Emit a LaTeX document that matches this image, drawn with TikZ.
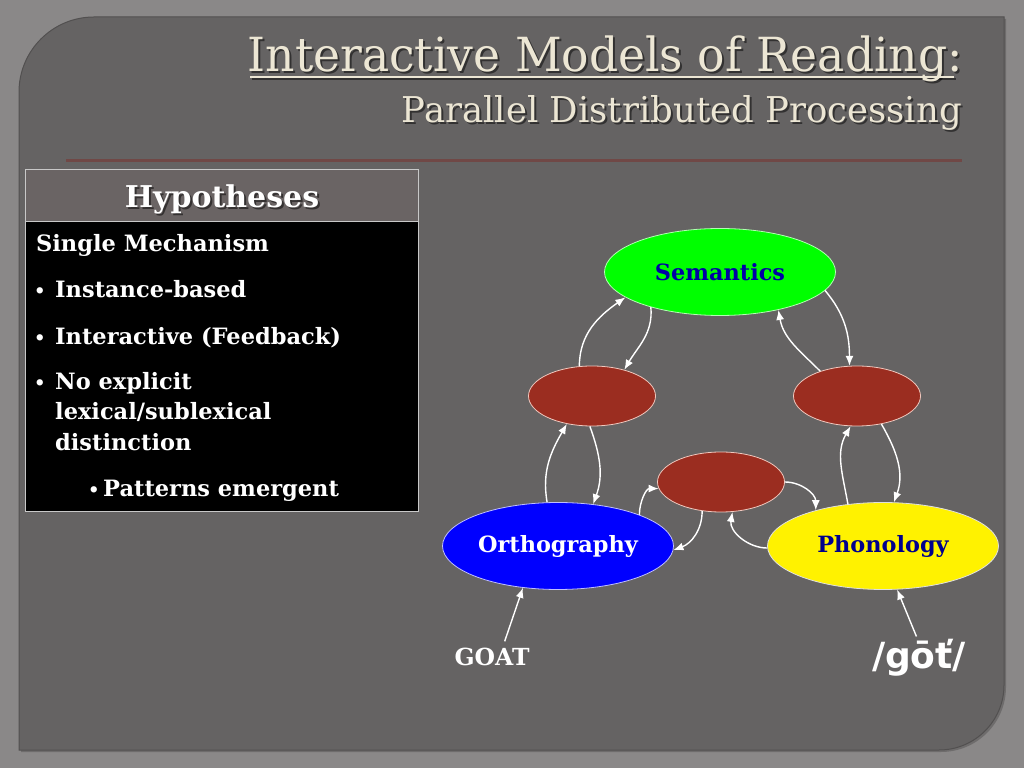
\documentclass[tikz,border=0pt]{standalone}
\usepackage{fontspec}
\setmainfont{DejaVu Serif}
\newfontfamily\symfont{DejaVu Sans}
\usetikzlibrary{arrows.meta,shapes.geometric}
\definecolor{outerbg}{RGB}{138,136,136}
\definecolor{panelc}{RGB}{101,99,99}
\definecolor{panelb}{RGB}{82,80,80}
\definecolor{hdrc}{RGB}{106,100,100}
\definecolor{rulec}{RGB}{112,72,70}
\definecolor{cream}{RGB}{236,230,212}
\definecolor{hidc}{RGB}{155,45,32}
\definecolor{hidb}{RGB}{240,200,190}
\definecolor{semtxt}{RGB}{0,0,165}
\definecolor{phontxt}{RGB}{0,0,140}
\definecolor{boxb}{RGB}{200,200,200}
\begin{document}
\begin{tikzpicture}[x=1pt,y=1pt,
  arr/.style={draw=white,line width=1.4pt,-{Latex[length=10pt,width=8pt]}},
  ell/.style={ellipse,inner sep=0pt,line width=0.8pt},
  hid/.style={ell,fill=hidc,draw=hidb,minimum width=127pt,minimum height=60pt},
  big/.style={ell,minimum width=231pt,minimum height=87pt,font=\fontsize{22.4}{26}\selectfont\bfseries},
  ttl/.style={text=cream,inner sep=0pt},
  shd/.style={text=black,text opacity=0.5,inner sep=0pt},
  btxt/.style={text=white,anchor=base west,inner sep=0pt,font=\fontsize{22.5}{27}\selectfont\bfseries},
  bul/.style={text=white,anchor=base west,inner sep=0pt,font=\fontsize{18}{27}\selectfont\bfseries},
]
\useasboundingbox (0,0) rectangle (1024,768);
\fill[outerbg] (0,0) rectangle (1024,768);
% panel
\fill[black,opacity=0.2] (21,16) -- (941,16) arc[start angle=-90,end angle=0,radius=65] -- (1006,749) -- (96,749) arc[start angle=90,end angle=180,radius=75] -- cycle;
\fill[panelc] (19,18) -- (939,18) arc[start angle=-90,end angle=0,radius=65] -- (1004,751) -- (94,751) arc[start angle=90,end angle=180,radius=75] -- cycle;
\draw[panelb,line width=1pt] (19,18) -- (939,18) arc[start angle=-90,end angle=0,radius=65] -- (1004,751) -- (94,751) arc[start angle=90,end angle=180,radius=75] -- cycle;

% title
\node[shd,anchor=base east] (t1s) at (965,694) {\fontsize{47}{52}\selectfont\scalebox{0.97}[1]{Interactive Models of Reading:}};
\draw[black,opacity=0.5,line width=2pt] (252,689) -- (956,689);
\node[ttl,anchor=base east] (t1) at (963,696) {\fontsize{47}{52}\selectfont\scalebox{0.97}[1]{Interactive Models of Reading:}};
\draw[cream,line width=2pt] (250,691) -- (954,691);
\node[shd,anchor=base east] (t2s) at (964,643) {\fontsize{35.5}{40}\selectfont Parallel Distributed Processing};
\node[ttl,anchor=base east] (t2) at (962,645) {\fontsize{35.5}{40}\selectfont Parallel Distributed Processing};
\draw[rulec,line width=3pt] (66,607) -- (962,607);

% hypotheses box
\draw[boxb,fill=hdrc,line width=1pt] (25,546) rectangle (418,598);
\draw[boxb,fill=black,line width=1pt] (25,256) rectangle (418,546);
\node[shd,anchor=base,font=\fontsize{30}{34}\selectfont\bfseries] (hyps) at (224,558) {Hypotheses};
\node[anchor=base,text=white,inner sep=0pt,font=\fontsize{30}{34}\selectfont\bfseries] (hyp) at (222,560) {Hypotheses};
\node[btxt] (l1) at (36,516) {Single Mechanism};
\node[bul] (b2) at (34,470) {•};
\node[btxt] (l2) at (55,470) {Instance-based};
\node[bul] (b3) at (34,423) {•};
\node[btxt] (l3) at (55,423) {Interactive (Feedback)};
\node[bul] (b4) at (34,378) {•};
\node[btxt] (l4) at (55,378) {No explicit};
\node[btxt] (l5) at (55,348) {lexical/sublexical};
\node[btxt] (l6) at (55,317) {distinction};
\node[bul] (b7) at (88,271) {•};
\node[btxt] (l7) at (103,271) {Patterns emergent};

% diagram nodes
\node[big,fill=green,draw=white!70!green,text=semtxt] (sem) at (720,496) {Semantics};
\node[hid] (lh) at (592,372) {};
\node[hid] (rh) at (857,372) {};
\node[hid] (mid) at (721,286) {};
\node[big,fill=blue,draw=white!75!blue,text=white] (orth) at (558,222) {Orthography};
\node[big,fill=yellow,draw=white!75!gray,text=phontxt] (phon) at (883,222) {Phonology};
\node[anchor=base,text=white,inner sep=6pt,font=\fontsize{23.5}{27}\selectfont\bfseries] (goat) at (492,103) {GOAT};
\node[anchor=base,text=white,inner sep=2pt,font=\symfont\fontsize{36}{40}\selectfont\bfseries] (got) at (919,100) {/gōť/};

% connectors
\draw[arr] (lh.113) to[out=90,in=215] (sem.195);
\draw[arr] (sem.207) to[out=-85,in=60] (lh.39);
\draw[arr] (sem.350) to[out=-50,in=90] (rh.104);
\draw[arr] (rh.146) to[out=135,in=-80] (sem.327);
\draw[arr] (orth.104) to[out=100,in=240] (lh.228);
\draw[arr] (lh.266) to[out=-70,in=70] (orth.50);
\draw[arr] (rh.311) to[out=-60,in=70] (phon.76);
\draw[arr] (phon.130) to[out=100,in=240] (rh.258);
\draw[arr] (orth.21) to[out=90,in=180] (mid.186);
\draw[arr] (mid.237) to[out=-90,in=20] (orth.358);
\draw[arr] (mid.0) to[out=0,in=90] (phon.152);
\draw[arr] (phon.181) to[out=180,in=-100] (mid.291);
\draw[arr] (goat.50) -- (orth.230);
\draw[arr] (got.97) -- (phon.288);
\end{tikzpicture}
\end{document}
